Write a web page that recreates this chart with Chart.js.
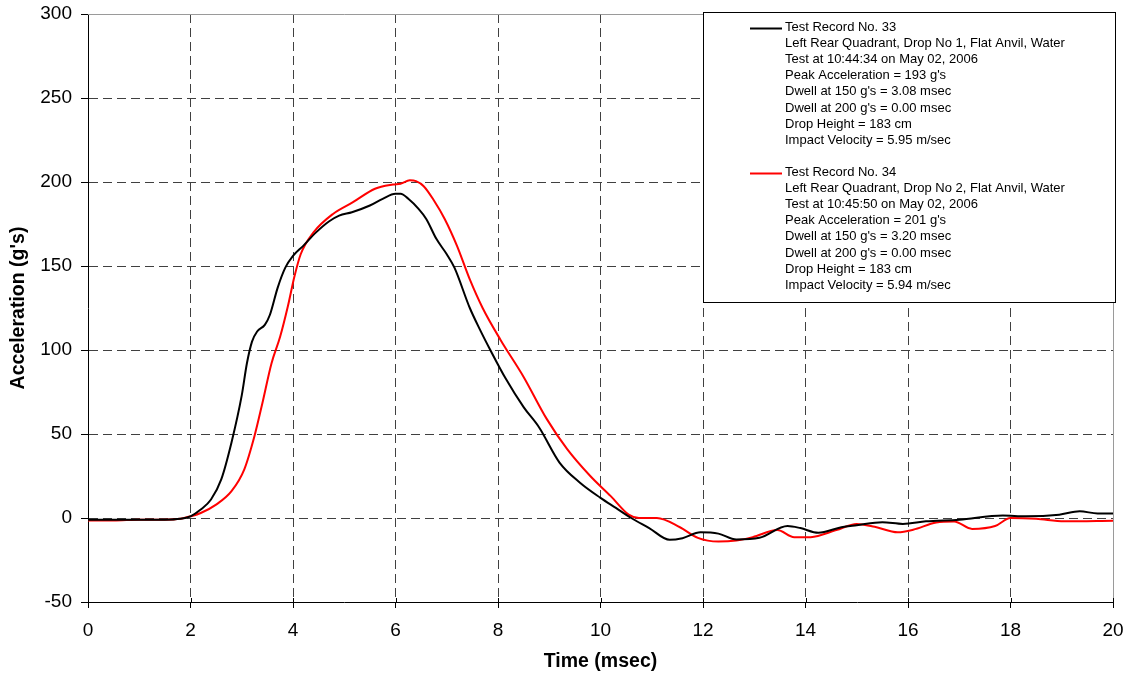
<!DOCTYPE html>
<html>
<head>
  <title>Drop Test Acceleration</title>
  <script src="https://cdn.jsdelivr.net/npm/chart.js"></script>
  <style>
    body { margin: 0; background: #fff; }
  </style>
</head>
<body>
  <canvas id="dropChart" width="1129" height="677"></canvas>

  <script>
    // Record 33 (black trace): time in msec, acceleration in g's
    const rec33Time = [0, 0.5, 1.0, 1.5, 1.8, 2.0, 2.2, 2.4, 2.6, 2.8, 3.0, 3.1, 3.2, 3.3, 3.45, 3.55, 3.7, 3.85, 4.0, 4.2,
      4.45, 4.7, 4.9, 5.15, 5.5, 5.75, 6.0, 6.1, 6.25, 6.45, 6.6, 6.8, 7.0, 7.15, 7.45, 7.65, 7.85, 8.15, 8.5, 8.8,
      9.2, 9.6, 10.0, 10.3, 10.6, 10.95, 11.35, 11.6, 11.95, 12.3, 12.65, 13.1, 13.65, 13.9, 14.25, 14.7, 15.0, 15.5, 15.9, 16.35,
      17.0, 17.85, 18.3, 18.95, 19.35, 19.7, 20];
    const rec33Accel = [-1, -1, -1, -1, -0.5, 1, 5, 11, 23, 45, 73, 92, 105, 111, 115, 121, 137, 149, 156, 162,
      170, 176.5, 180, 182, 186, 190, 193, 193, 190, 184, 178, 166, 157, 149, 125, 112, 100, 83, 66, 54,
      33, 21, 12, 6, 0, -6, -13, -12, -8.5, -9.3, -12.8, -11.8, -4.8, -6, -8.8, -5.5, -4.3, -2.5, -3.5, -2,
      -1, 1.5, 1, 2, 4, 2.7, 2.7];

    // Record 34 (red trace)
    const rec34Time = [0, 0.5, 1.0, 1.5, 1.8, 2.0, 2.2, 2.5, 2.8, 3.05, 3.25, 3.4, 3.58, 3.75, 3.9, 4.03, 4.15, 4.4, 4.78, 5.17,
      5.6, 5.95, 6.1, 6.28, 6.4, 6.55, 6.75, 6.96, 7.2, 7.45, 7.7, 8.05, 8.5, 8.95, 9.35, 9.8, 10.2, 10.55, 10.75, 11.1,
      11.55, 11.9, 12.3, 12.65, 12.97, 13.45, 13.78, 14.1, 14.6, 15.0, 15.35, 15.8, 16.1, 16.55, 16.9, 17.25, 17.7, 18.0, 18.5, 19.05, 20];
    const rec34Accel = [-1.5, -1.5, -1, -1, -0.5, 1, 3, 8, 16, 29, 49, 68, 92, 108, 126, 144, 157, 170, 181, 188,
      196, 198.5, 199, 201, 200.5, 197.5, 189, 178, 162, 142, 125, 106, 84, 59, 41, 25, 13, 2, 0, 0,
      -5.5, -11.8, -14, -13.4, -11.4, -7.2, -11.5, -11.4, -7.2, -3.5, -5.2, -8.5, -7, -2.7, -2.1, -6.5, -4.8, 0, -0.5, -2, -1.7];

    // Axis ranges and tick steps
    const timeRange = [0, 20];
    const timeStep = 2;
    const accelRange = [-50, 300];
    const accelStep = 50;

    // Legend text blocks, one per record
    const rec33Lines = [
      'Test Record No. 33',
      'Left Rear Quadrant, Drop No 1, Flat Anvil, Water',
      'Test at 10:44:34 on May 02, 2006',
      "Peak Acceleration = 193 g's",
      "Dwell at 150 g's = 3.08 msec",
      "Dwell at 200 g's = 0.00 msec",
      'Drop Height = 183 cm',
      'Impact Velocity = 5.95 m/sec'
    ];
    const rec34Lines = [
      'Test Record No. 34',
      'Left Rear Quadrant, Drop No 2, Flat Anvil, Water',
      'Test at 10:45:50 on May 02, 2006',
      "Peak Acceleration = 201 g's",
      "Dwell at 150 g's = 3.20 msec",
      "Dwell at 200 g's = 0.00 msec",
      'Drop Height = 183 cm',
      'Impact Velocity = 5.94 m/sec'
    ];

    const FONT = "'Liberation Sans', Arial, sans-serif";

    function toPoints(xs, ys) {
      return xs.map((x, i) => ({ x: x, y: ys[i] }));
    }

    // Plot frame (gray top/right edges), inner half of x ticks, and the boxed legend
    const framePlugin = {
      id: 'frameAndLegend',
      afterDraw(chart) {
        const ctx = chart.ctx;
        const area = chart.chartArea;
        const xs = chart.scales.x;
        ctx.save();

        ctx.strokeStyle = '#9a9a9a';
        ctx.lineWidth = 1;
        ctx.beginPath();
        ctx.moveTo(area.left, Math.round(area.top) + 0.5);
        ctx.lineTo(area.right, Math.round(area.top) + 0.5);
        ctx.moveTo(Math.round(area.right) + 0.5, area.top);
        ctx.lineTo(Math.round(area.right) + 0.5, area.bottom);
        ctx.stroke();

        ctx.strokeStyle = '#000';
        ctx.beginPath();
        for (let t = timeRange[0]; t <= timeRange[1]; t += timeStep) {
          const px = Math.round(xs.getPixelForValue(t)) + 0.5;
          ctx.moveTo(px, area.bottom);
          ctx.lineTo(px, area.bottom - 4);
        }
        ctx.stroke();

        // legend box
        const bx = 703.5, by = 12.5, bw = 412, bh = 290;
        ctx.fillStyle = '#fff';
        ctx.fillRect(bx, by, bw, bh);
        ctx.strokeStyle = '#000';
        ctx.strokeRect(bx, by, bw, bh);

        ctx.font = '13px ' + FONT;
        ctx.textBaseline = 'middle';
        ctx.textAlign = 'left';
        const blocks = [
          { lines: rec33Lines, color: '#000000', top: 27 },
          { lines: rec34Lines, color: '#ff0000', top: 172 }
        ];
        blocks.forEach(b => {
          ctx.strokeStyle = b.color;
          ctx.lineWidth = 2;
          ctx.beginPath();
          ctx.moveTo(750, b.top + 1.5);
          ctx.lineTo(782, b.top + 1.5);
          ctx.stroke();
          ctx.fillStyle = '#000';
          b.lines.forEach((s, i) => {
            ctx.fillText(s, 785, b.top + i * 16.2);
          });
        });
        ctx.restore();
      }
    };

    const ctx = document.getElementById('dropChart').getContext('2d');
    new Chart(ctx, {
      type: 'line',
      data: {
        datasets: [
          {
            label: 'Test Record No. 33',
            data: toPoints(rec33Time, rec33Accel),
            borderColor: '#000000',
            borderWidth: 2,
            pointRadius: 0,
            cubicInterpolationMode: 'monotone',
            fill: false
          },
          {
            label: 'Test Record No. 34',
            data: toPoints(rec34Time, rec34Accel),
            borderColor: '#ff0000',
            borderWidth: 2,
            pointRadius: 0,
            cubicInterpolationMode: 'monotone',
            fill: false
          }
        ]
      },
      options: {
        responsive: false,
        animation: false,
        devicePixelRatio: 1,
        layout: { padding: { top: 14, right: 16, left: 0, bottom: 0 } },
        plugins: {
          legend: { display: false },
          tooltip: { enabled: false }
        },
        scales: {
          x: {
            type: 'linear',
            min: timeRange[0],
            max: timeRange[1],
            afterFit(scale) {
              scale.height = 75;
              scale.paddingLeft = 0;
              scale.paddingRight = 0;
            },
            ticks: {
              stepSize: timeStep,
              color: '#000',
              font: { family: FONT, size: 19 },
              padding: 11,
              maxRotation: 0
            },
            grid: {
              color: c => (c.tick && (c.tick.value === timeRange[0] || c.tick.value === timeRange[1])) ? 'rgba(0,0,0,0)' : '#404040',
              tickColor: '#000',
              tickLength: 6,
              lineWidth: 1
            },
            border: { display: true, color: '#000', width: 1, dash: [9, 5] },
            title: {
              display: true,
              text: 'Time (msec)',
              color: '#000',
              font: { family: FONT, size: 19.5, weight: 'bold' },
              padding: { top: 0, bottom: 4 }
            }
          },
          y: {
            min: accelRange[0],
            max: accelRange[1],
            afterFit(scale) {
              scale.width = 88;
              scale.paddingTop = 0;
              scale.paddingBottom = 0;
            },
            ticks: {
              stepSize: accelStep,
              color: '#000',
              font: { family: FONT, size: 19 },
              padding: 9
            },
            grid: {
              color: c => (c.tick && (c.tick.value === accelRange[0] || c.tick.value === accelRange[1])) ? 'rgba(0,0,0,0)' : '#404040',
              tickColor: '#000',
              tickLength: 7,
              lineWidth: 1
            },
            border: { display: true, color: '#000', width: 1, dash: [9, 5] },
            title: {
              display: true,
              text: "Acceleration (g's)",
              color: '#000',
              font: { family: FONT, size: 19.5, weight: 'bold' },
              padding: { top: 7, bottom: 0 }
            }
          }
        }
      },
      plugins: [framePlugin]
    });
  </script>
</body>
</html>
